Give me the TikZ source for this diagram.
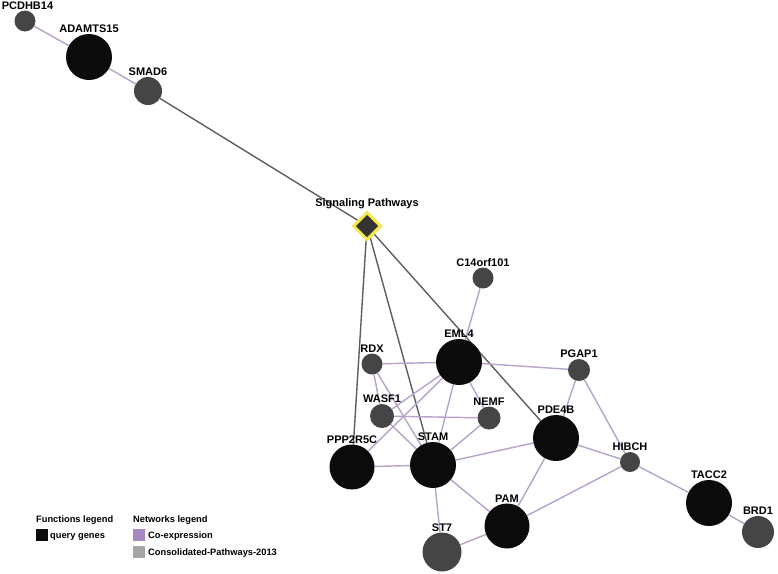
\documentclass[tikz,border=0pt]{standalone}
\usepackage{fontspec}
\setmainfont{Liberation Sans}
\usetikzlibrary{shapes.geometric,backgrounds}
\definecolor{coexp}{HTML}{B7A2C9}
\definecolor{coexpleg}{HTML}{A888C0}
\definecolor{pathw}{HTML}{5E5E5E}
\definecolor{pathwleg}{HTML}{A6A6A6}
\definecolor{othergene}{HTML}{454545}
\definecolor{querygene}{HTML}{0B0B0B}
\definecolor{sigyellow}{HTML}{F4E84A}
\definecolor{sigfill}{HTML}{333333}
\tikzset{
  lbl/.style={font=\bfseries\fontsize{11}{13}\selectfont, inner sep=0.8pt, text=black},
  query/.style={circle, fill=querygene, inner sep=0pt, minimum size=46pt},
  other/.style={circle, fill=othergene, inner sep=0pt},
  coline/.style={draw=coexp, line width=1.4pt},
  pwline/.style={draw=pathw, line width=1.4pt},
  legtitle/.style={font=\bfseries\fontsize{9.3}{11}\selectfont, anchor=base west, inner sep=0pt},
  legtext/.style={font=\bfseries\fontsize{9.3}{11}\selectfont, anchor=base west, inner sep=0pt},
  swatch/.style={minimum size=12pt, inner sep=0pt, anchor=north west},
}
\begin{document}
\begin{tikzpicture}[x=1pt,y=-1pt]
\useasboundingbox (0,0) rectangle (778,573);
% nodes
\node[other, minimum size=21pt, label={[lbl, xshift=2.5pt]above:PCDHB14}] (PCDHB14) at (25,21) {};
\node[query, label={[lbl]above:ADAMTS15}] (ADAMTS15) at (89,57) {};
\node[other, minimum size=28pt, label={[lbl]above:SMAD6}] (SMAD6) at (148,91) {};
\node[diamond, aspect=1, minimum size=28pt, inner sep=0pt, fill=sigfill, draw=sigyellow, line width=3pt,
      label={[lbl, label distance=0.5pt]above:Signaling Pathways}] (SP) at (367,226) {};
\node[other, minimum size=21pt, label={[lbl]above:C14orf101}] (C14) at (483,278) {};
\node[query, label={[lbl]above:EML4}] (EML4) at (459,362) {};
\node[other, minimum size=21pt, label={[lbl]above:RDX}] (RDX) at (372,364) {};
\node[other, minimum size=24pt, label={[lbl]above:WASF1}] (WASF1) at (382,416) {};
\node[other, minimum size=23pt, label={[lbl]above:NEMF}] (NEMF) at (489,418) {};
\node[query, minimum size=45pt, label={[lbl]above:PPP2R5C}] (PPP2R5C) at (352,467) {};
\node[query, label={[lbl]above:STAM}] (STAM) at (433,465) {};
\node[query, label={[lbl]above:PDE4B}] (PDE4B) at (556,438) {};
\node[other, minimum size=22pt, label={[lbl]above:PGAP1}] (PGAP1) at (579,370) {};
\node[other, minimum size=20pt, label={[lbl]above:HIBCH}] (HIBCH) at (630,462) {};
\node[query, minimum size=45pt, label={[lbl]above:PAM}] (PAM) at (507,526) {};
\node[other, minimum size=39pt, label={[lbl]above:ST7}] (ST7) at (442,552) {};
\node[query, label={[lbl]above:TACC2}] (TACC2) at (709,503) {};
\node[other, minimum size=32pt, label={[lbl]above:BRD1}] (BRD1) at (758,532) {};
% edges
\begin{pgfonlayer}{background}
\draw[coline] (PCDHB14) -- (ADAMTS15);
\draw[coline] (ADAMTS15) -- (SMAD6);
\draw[pwline] (SMAD6) -- (SP);
\draw[pwline] (SP) -- (PPP2R5C);
\draw[pwline] (SP) -- (STAM);
\draw[pwline] (SP) -- (PDE4B);
\draw[coline] (C14) -- (EML4);
\draw[coline] (RDX) -- (EML4);
\draw[coline] (EML4) -- (PGAP1);
\draw[coline] (RDX) -- (WASF1);
\draw[coline] (RDX) -- (STAM);
\draw[coline] (WASF1) -- (EML4);
\draw[coline] (WASF1) -- (NEMF);
\draw[coline] (WASF1) -- (STAM);
\draw[coline] (PPP2R5C) -- (EML4);
\draw[coline] (EML4) -- (STAM);
\draw[coline] (EML4) -- (NEMF);
\draw[coline] (NEMF) -- (STAM);
\draw[coline] (PPP2R5C) -- (STAM);
\draw[coline] (STAM) -- (PDE4B);
\draw[coline] (STAM) -- (PAM);
\draw[coline] (STAM) -- (ST7);
\draw[coline] (ST7) -- (PAM);
\draw[coline] (PAM) -- (PDE4B);
\draw[coline] (PAM) -- (HIBCH);
\draw[coline] (PDE4B) -- (HIBCH);
\draw[coline] (PDE4B) -- (PGAP1);
\draw[coline] (PGAP1) -- (HIBCH);
\draw[coline] (HIBCH) -- (TACC2);
\draw[coline] (TACC2) -- (BRD1);
\end{pgfonlayer}
% legend
\node[legtitle] (flegend) at (36,522) {Functions legend};
\node[legtitle] (nlegend) at (133,522) {Networks legend};
\node[swatch, fill=querygene] (sq) at (36,529) {};
\node[legtext] (tq) at (50,538) {query genes};
\node[swatch, fill=coexpleg] (sc) at (133,529) {};
\node[legtext] (tc) at (148,538) {Co-expression};
\node[swatch, fill=pathwleg] (sp) at (133,546) {};
\node[legtext] (tp) at (148,555) {Consolidated-Pathways-2013};
\end{tikzpicture}
\end{document}
